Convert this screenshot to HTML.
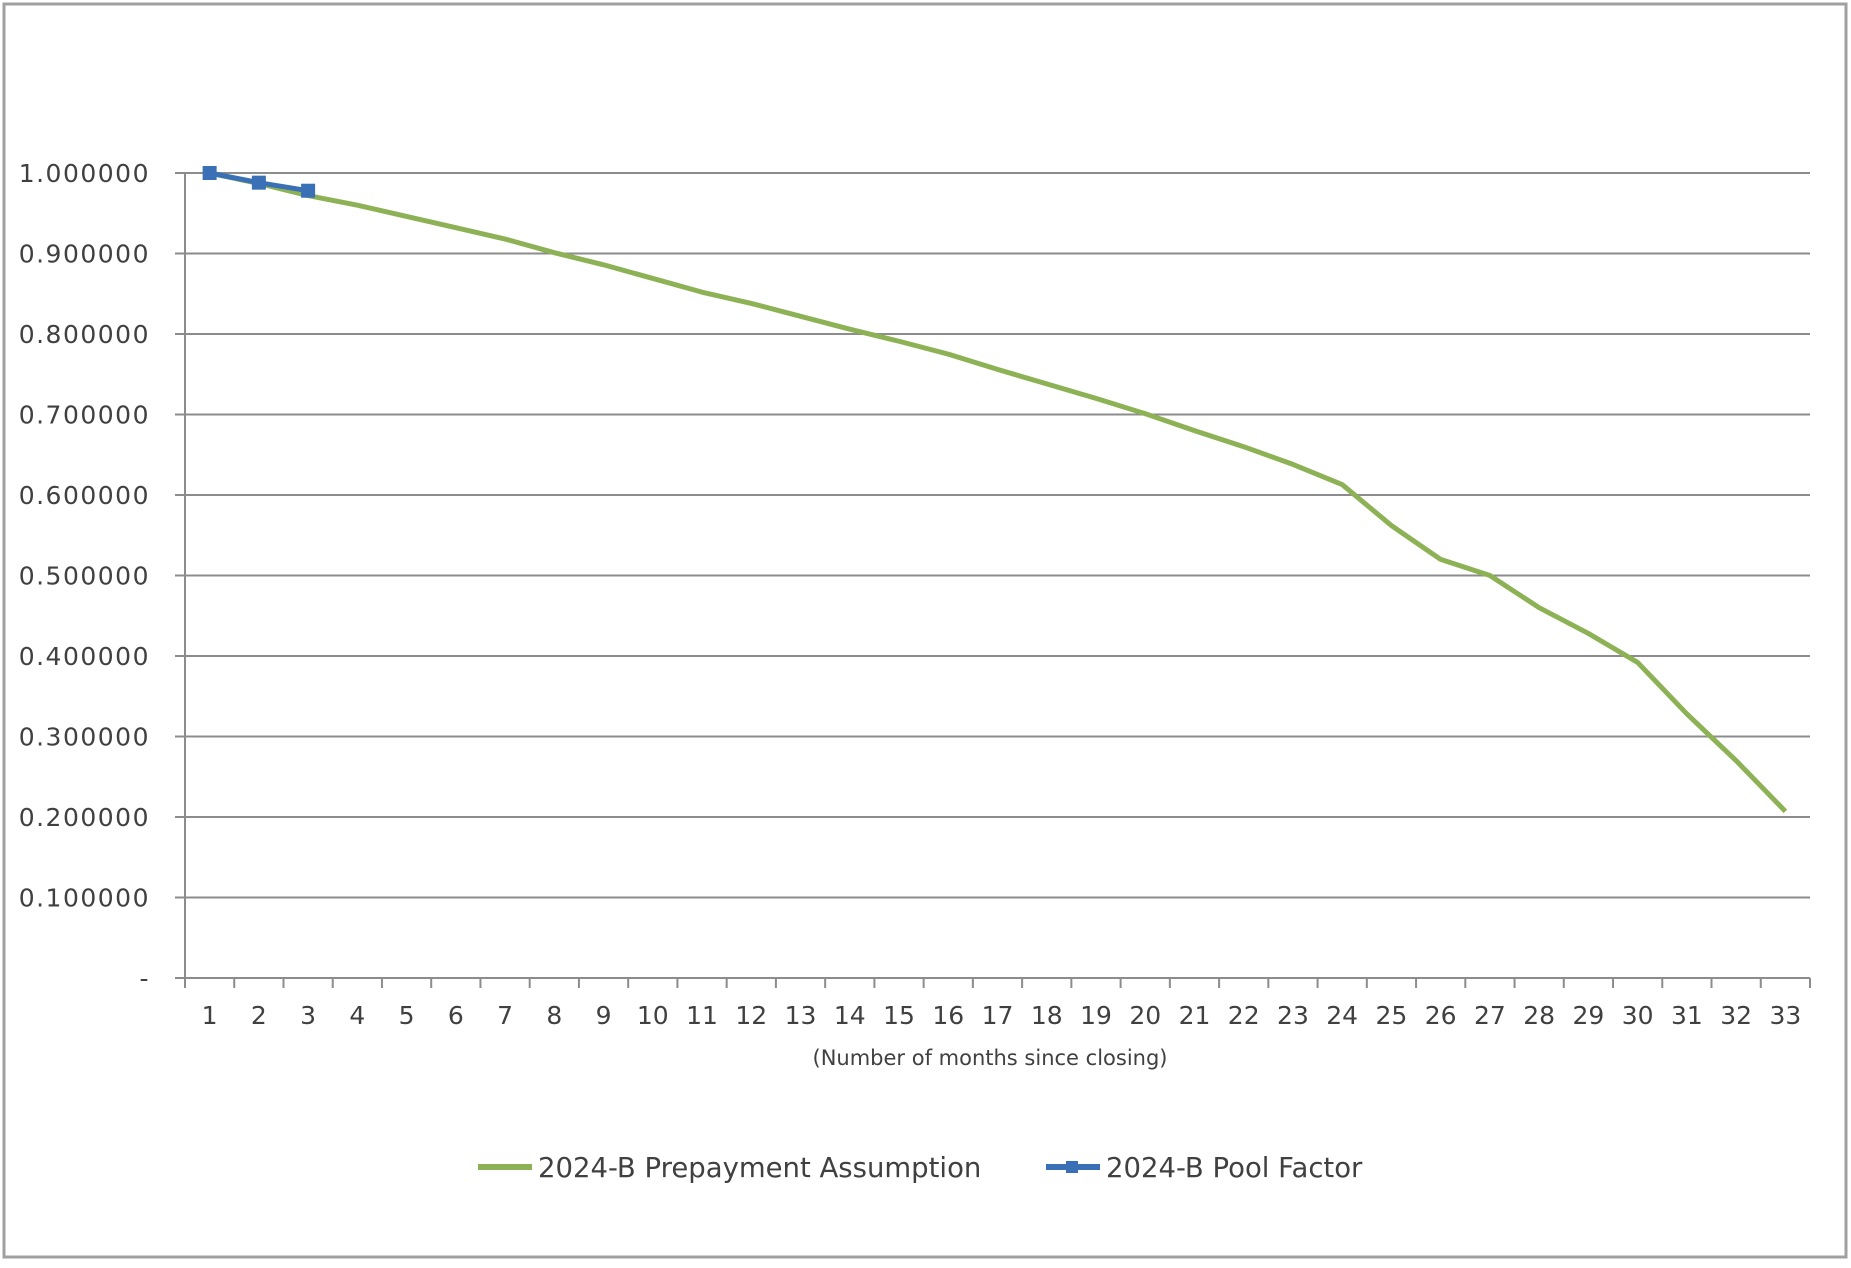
<!DOCTYPE html>
<html><head><meta charset="utf-8"><style>
body{margin:0;background:#fff}
svg text{font-family:"DejaVu Sans","Liberation Sans",sans-serif;fill:#404040}
</style></head><body>
<svg id="chart" width="1851" height="1263" xmlns="http://www.w3.org/2000/svg">
<rect x="4" y="4" width="1842" height="1253" fill="#fff" stroke="#a0a0a0" stroke-width="3"/>
<g id="grid"></g><g id="axes"></g><g id="series"></g>
<text x="990" y="1065" font-size="21" text-anchor="middle">(Number  of months since closing)</text>
<g>
<g>
<line x1="478" y1="1167" x2="532" y2="1167" stroke="#8db255" stroke-width="6"/>
<text x="538" y="1177" font-size="27.5">2024-B Prepayment Assumption</text></g>
<g>
<line x1="1046" y1="1167" x2="1100" y2="1167" stroke="#3a70b5" stroke-width="6"/>
<rect x="1066" y="1161" width="12" height="12" fill="#3a70b5"/>
<text x="1106" y="1177" font-size="27.5">2024-B Pool Factor</text></g>
</g>
</svg>
<script>
const categories=[1,2,3,4,5,6,7,8,9,10,11,12,13,14,15,16,17,18,19,20,21,22,23,24,25,26,27,28,29,30,31,32,33];
const prepayment=[1.0,0.987,0.972,0.960,0.946,0.932,0.918,0.901,0.886,0.869,0.852,0.838,0.822,0.806,0.791,0.775,0.756,0.738,0.720,0.701,0.680,0.660,0.638,0.613,0.562,0.520,0.500,0.460,0.428,0.392,0.328,0.270,0.207];
const poolFactor=[1.0,0.988,0.978];
const yTicks=[0,0.1,0.2,0.3,0.4,0.5,0.6,0.7,0.8,0.9,1.0];
const yTickLabels=["-","0.100000","0.200000","0.300000","0.400000","0.500000","0.600000","0.700000","0.800000","0.900000","1.000000"];
const NS="http://www.w3.org/2000/svg";
const L=185,R=1810,T=173,B=978;
const slot=(R-L)/categories.length;
const xPos=i=>L+slot*(i+0.5);
const yPos=v=>B-(B-T)*v/1.0;
function mk(tag,attrs,parent){const e=document.createElementNS(NS,tag);for(const k in attrs)e.setAttribute(k,attrs[k]);parent.appendChild(e);return e;}
const grid=document.getElementById('grid'),axes=document.getElementById('axes'),series=document.getElementById('series');
yTicks.forEach((v,i)=>{
  if(v>0){const g=mk('line',{x1:L-10,x2:R,y1:yPos(v),y2:yPos(v),stroke:'#8c8c8c','stroke-width':2},grid);
  
  }
  const t=mk('text',{x:150,y:yPos(v)+9,'font-size':25,'text-anchor':'end','letter-spacing':'1.5'},axes);
  t.textContent=yTickLabels[i];
  
  
});
const ya=mk('line',{x1:L,x2:L,y1:T,y2:B,stroke:'#8c8c8c','stroke-width':2},axes);


const xa=mk('line',{x1:L-10,x2:R,y1:B,y2:B,stroke:'#8c8c8c','stroke-width':2},axes);


for(let i=0;i<=categories.length;i++){
  const tk=mk('line',{x1:L+slot*i,x2:L+slot*i,y1:B,y2:B+10,stroke:'#8c8c8c','stroke-width':2},axes);
  
  
}
categories.forEach((c,i)=>{
  const t=mk('text',{x:xPos(i),y:B+46,'font-size':25,'text-anchor':'middle'},axes);
  t.textContent=c;
  
  
});
const gp=mk('polyline',{points:prepayment.map((v,i)=>xPos(i)+','+yPos(v)).join(' '),fill:'none',stroke:'#8db255','stroke-width':5,'stroke-linejoin':'round'},series);


const bp=mk('polyline',{points:poolFactor.map((v,i)=>xPos(i)+','+yPos(v)).join(' '),fill:'none',stroke:'#3a70b5','stroke-width':5},series);


poolFactor.forEach((v,i)=>{
  const m=mk('rect',{x:xPos(i)-7,y:yPos(v)-7,width:14,height:14,fill:'#3a70b5'},series);
  
  
});
</script>
</body></html>
